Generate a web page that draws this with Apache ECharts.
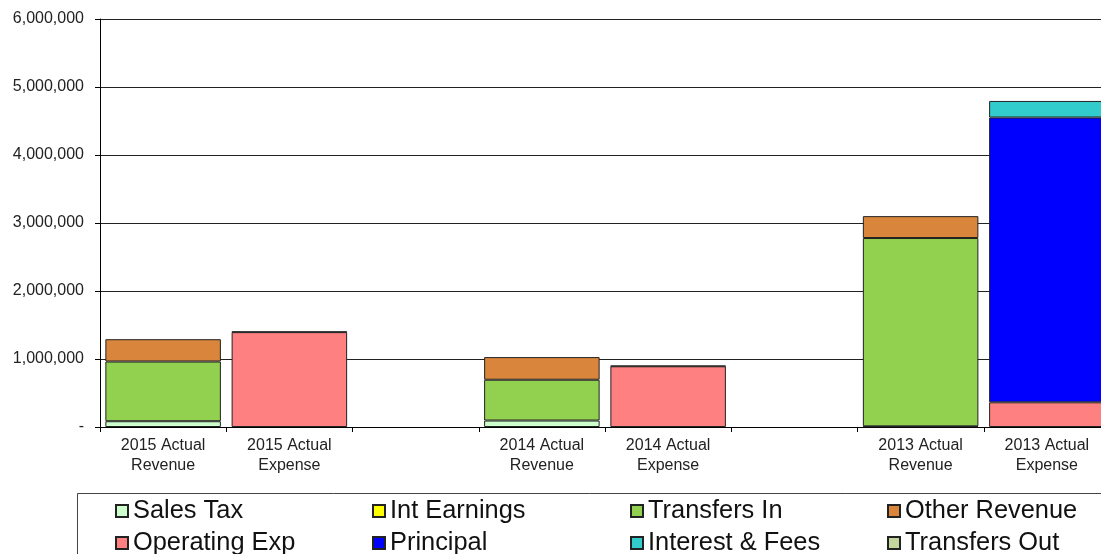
<!DOCTYPE html>
<html>
<head>
<meta charset="utf-8">
<script src="https://cdn.jsdelivr.net/npm/echarts@6/dist/echarts.min.js"></script>
<style>
  html, body { margin: 0; padding: 0; background: #fff; }
  #chart { width: 1101px; height: 554px; }
</style>
</head>
<body>
<div id="chart"></div>
<script>
const categories = ['2015 Actual\nRevenue', '2015 Actual\nExpense', '', '2014 Actual\nRevenue', '2014 Actual\nExpense', '', '2013 Actual\nRevenue', '2013 Actual\nExpense'];

const salesTax      = [85000, null, null, 95000, null, null, 10000, null];
const intEarnings   = [null, null, null, null, null, null, null, null];
const transfersIn   = [878000, null, null, 600000, null, null, 2769000, null];
const otherRevenue  = [328000, null, null, 333000, null, null, 322000, null];
const operatingExp  = [null, 1395000, null, null, 893000, null, null, 363000];
const principal     = [null, null, null, null, null, null, null, 4188000];
const interestFees  = [null, 8000, null, null, 8000, null, null, 244000];
const transfersOut  = [null, null, null, null, null, null, null, null];

const yTicks = [0, 1000000, 2000000, 3000000, 4000000, 5000000, 6000000];

const seriesDefs = [
  ['Sales Tax', salesTax, '#CCFFCC'],
  ['Int Earnings', intEarnings, '#FFFF00'],
  ['Transfers In', transfersIn, '#92D050'],
  ['Other Revenue', otherRevenue, '#D9853B'],
  ['Operating Exp', operatingExp, '#FF8080'],
  ['Principal', principal, '#0000FF'],
  ['Interest & Fees', interestFees, '#33CCCC'],
  ['Transfers Out', transfersOut, '#C3D69B']
];

const legendCols = [
  ['Sales Tax', 'Operating Exp'],
  ['Int Earnings', 'Principal'],
  ['Transfers In', 'Interest & Fees'],
  ['Other Revenue', 'Transfers Out']
];
const legendLeft = [115, 372, 630, 887];

const chart = echarts.init(document.getElementById('chart'));

const option = {
  animation: false,
  textStyle: { fontFamily: 'Liberation Sans, Arial, sans-serif' },
  grid: { left: 100, top: 19, width: 1010, bottom: 127, outerBoundsMode: 'none', containLabel: false },
  graphic: [{
    type: 'rect',
    shape: { x: 77.5, y: 493.5, width: 1100, height: 100 },
    style: { fill: 'none', stroke: '#444', lineWidth: 1 },
    z: 0
  }],
  legend: legendCols.map((col, i) => ({
    data: col,
    orient: 'vertical',
    left: legendLeft[i],
    top: 498,
    width: 250,
    height: 80,
    padding: 0,
    itemGap: 6,
    itemWidth: 12,
    itemHeight: 12,
    icon: 'rect',
    selectedMode: false,
    textStyle: { fontSize: 25.4, lineHeight: 26, color: '#111', fontFamily: 'Liberation Sans, Arial, sans-serif' }
  })),
  xAxis: {
    type: 'category',
    data: categories,
    axisLine: { lineStyle: { color: '#000', width: 1 } },
    axisTick: { show: true, length: 5, lineStyle: { color: '#000' } },
    axisLabel: { fontSize: 16, lineHeight: 20, color: '#222', margin: 9, interval: 0 }
  },
  yAxis: {
    type: 'value',
    min: yTicks[0],
    max: yTicks[yTicks.length - 1],
    interval: 1000000,
    axisLine: { show: true, lineStyle: { color: '#000', width: 1 } },
    axisTick: { show: true, length: 5, lineStyle: { color: '#000' } },
    splitLine: { lineStyle: { color: '#222', width: 1 } },
    axisLabel: {
      fontSize: 16, color: '#222', margin: 16,
      formatter: v => v === 0 ? '-' : v.toLocaleString('en-US')
    }
  },
  series: seriesDefs.map(([name, data, color]) => ({
    name: name,
    type: 'bar',
    stack: 'total',
    data: data,
    barCategoryGap: '8.5%',
    itemStyle: { color: color, borderColor: '#222', borderWidth: 1 }
  }))
};

chart.setOption(option);
</script>
</body>
</html>
